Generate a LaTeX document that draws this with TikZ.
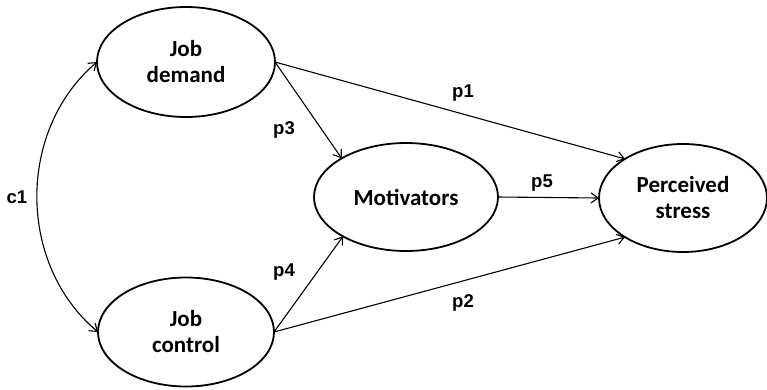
\documentclass[tikz,border=0pt]{standalone}
\usepackage{fontspec}
\setmainfont{Carlito}
\newfontfamily\labfont{Liberation Sans}
\usetikzlibrary{shapes.geometric,arrows.meta}
\begin{document}
\begin{tikzpicture}[x=1pt,y=-1pt,
  latent/.style={ellipse,draw,line width=1.8pt,inner sep=0pt,outer sep=0pt,align=center,
    font=\fontsize{23}{26}\selectfont\bfseries},
  path/.style={line width=1.1pt,-{Straight Barb[length=7pt,width=10pt,line width=1.1pt]}},
  plab/.style={font=\labfont\fontsize{18.5}{20}\selectfont\bfseries,inner sep=0pt}]
\useasboundingbox (0,0) rectangle (767,389);
\node[latent,minimum width=178pt,minimum height=110pt] (jd) at (186,62) {Job\\demand};
\node[latent,minimum width=176pt,minimum height=109pt] (jc) at (186,332) {Job\\control};
\node[latent,minimum width=184pt,minimum height=108pt] (mot) at (406,197) {Motivators};
\node[latent,minimum width=168pt,minimum height=108pt] (ps) at (683,198) {Perceived\\stress};
\draw[path] (jd.east) -- (ps.146);
\draw[path] (jd.east) -- (mot.149);
\draw[path] (jc.east) -- (mot.212);
\draw[path] (jc.east) -- (ps.214);
\draw[path] (mot.east) -- (ps.west);
\draw[line width=1.1pt,{Straight Barb[length=7pt,width=10pt,line width=1.1pt]}-{Straight Barb[length=7pt,width=10pt,line width=1.1pt]}]
  (jd.west) .. controls (17,130) and (17,264) .. (jc.west);
\node[plab] (c1) at (17,197) {c1};
\node[plab] (p1) at (463,93) {p1};
\node[plab] (p3) at (284,130) {p3};
\node[plab] (p5) at (542,183) {p5};
\node[plab] (p4) at (284,272) {p4};
\node[plab] (p2) at (463,303) {p2};
\end{tikzpicture}
\end{document}
